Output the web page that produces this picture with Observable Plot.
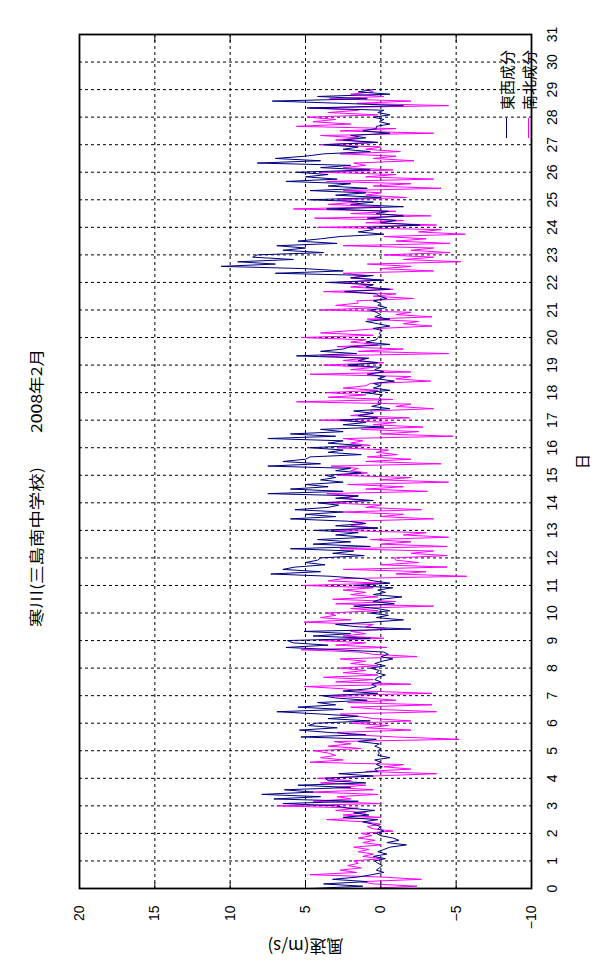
<!DOCTYPE html>
<html>
<head>
<meta charset="utf-8">
<script src="https://cdn.jsdelivr.net/npm/d3@7"></script>
<script src="https://cdn.jsdelivr.net/npm/@observablehq/plot@0.6"></script>
<style>
  html, body { margin: 0; padding: 0; background: #fff; }
  body { width: 604px; height: 970px; overflow: hidden; position: relative; }
  #rot { position: absolute; left: 0; top: 0; width: 970px; height: 604px;
         transform-origin: 0 0; transform: translate(0px, 970px) rotate(-90deg); }
  #title { position: absolute; left: 0; top: 0; }
  #chart { position: absolute; left: 0; top: 50px; }
  #legend { position: absolute; left: 832px; top: 0; font: 15px "Noto Sans CJK JP", sans-serif; color: #000; }
  .item { position: absolute; white-space: nowrap; display: flex; align-items: center; }
  .item span.sw { display: inline-block; width: 20px; height: 0; border-top: 1.5px solid; margin-right: 8px; }
</style>
</head>
<body>
<div id="rot">
  <svg id="title" width="970" height="50" xmlns="http://www.w3.org/2000/svg"
       style="font-family:'Noto Sans CJK JP',sans-serif; font-size:15px">
    <text id="t1" x="343" y="42" textLength="160" lengthAdjust="spacingAndGlyphs"></text>
    <text id="t2" x="537" y="42" textLength="84" lengthAdjust="spacingAndGlyphs"></text>
  </svg>
  <div id="chart"></div>
  <div id="legend"></div>
</div>
<script>
const titlePlace = "寒川(三島南中学校)";
const titleDate = "2008年2月";
const xLabel = "日";
const yLabel = "風速(m/s)";
const seriesNames = ["東西成分", "南北成分"];
const seriesColors = ["#000080", "#ff00ff"];
const dayTicks = d3.range(0, 32);
const speedTicks = [-10, -5, 0, 5, 10, 15, 20];
const stepsPerDay = 12;

// 東西成分 (2-hour readings, day 0 .. 29)
const ew = [
  4.6, 1.2, 3.8, 0.9, 3.2, 1.5, 0.6, -0.2, 0.3, 0.1, -0.1, 0.2,
  0.4, -0.3, 0.5, -0.4, 0.2, -0.2, -0.6, -1.7, -0.4, -1.2, -0.8, 0.0,
  0.3, -0.2, 0.2, 0.0, 0.5, 1.2, 0.2, 2.5, 0.8, 1.8, 0.4, 2.2,
  3.0, 6.5, 1.5, 7.1, 4.0, 7.9, 4.5, 6.4, 2.0, 5.5, 1.0, 3.5,
  3.7, 0.5, 2.8, 0.2, 0.4, -0.1, 0.3, 0.0, 0.4, -0.6, 0.2, 0.1,
  0.2, 0.0, 0.4, 0.1, 1.5, 0.3, 5.3, 1.0, 3.5, 5.4, 2.9, 4.8,
  4.3, 0.7, 3.5, 1.5, 4.0, 6.9, 2.5, 5.5, 3.0, 4.2, 0.9, 3.0,
  3.9, 0.2, 2.5, 0.8, 0.3, 0.6, 0.0, 0.4, 0.2, -0.3, 0.3, 0.1,
  0.7, -0.3, 0.4, -0.1, -0.8, 0.0, -0.5, -0.2, 2.9, 6.3, 3.5, 5.8,
  6.2, 0.7, 4.5, 2.0, 5.1, -2.0, 1.5, 3.0, 0.7, -1.5, 0.3, -0.5,
  0.7, -0.6, 0.3, 1.8, -0.9, 0.5, 0.0, -1.4, 0.5, -0.3, 0.2, -0.8,
  1.8, -0.6, 0.5, 1.2, 3.3, 7.3, 4.0, 6.5, 5.7, 3.7, 5.0, 4.2,
  4.0, 1.1, 3.2, 1.8, 6.0, 0.7, 4.5, 2.0, 4.2, 0.9, 3.0, 1.5,
  4.4, 0.2, 3.0, 1.0, 2.2, 6.0, 3.0, 5.0, 2.5, 5.7, 3.5, 2.8,
  4.2, 0.5, 3.0, 1.5, 7.5, 2.5, 6.0, 3.5, 5.0, 2.5, 4.0, 3.0,
  3.7, 1.3, 3.0, 2.0, 7.5, 4.0, 6.5, 5.0, 4.7, 1.3, 3.5, 2.5,
  4.7, 1.3, 3.5, 2.5, 7.5, 3.0, 6.0, 2.5, 4.0, -0.2, 2.5, 1.0,
  2.7, 0.2, 1.5, 0.5, 1.8, -0.6, 0.6, 0.0, 0.2, 0.0, 0.1, -0.1,
  1.1, -0.6, 0.5, 0.0, 0.5, -0.9, 0.2, -0.3, 0.9, -0.2, 0.4, 0.0,
  2.2, 0.2, 1.5, 0.8, 5.6, 1.6, 4.0, 2.5, 2.0, -0.6, 1.0, 0.3,
  0.2, 0.0, 0.1, -0.1, 0.5, -0.6, 0.2, 1.0, -0.6, 0.4, 0.0, 0.3,
  0.7, -0.4, 0.2, 0.0, 0.5, -0.4, 0.1, 0.3, 2.4, -0.6, 1.0, 0.5,
  3.5, -0.2, 2.0, 0.5, 7.0, 2.5, 5.0, 10.6, 7.0, 9.5, 5.8, 8.5,
  8.2, 3.8, 6.5, 5.0, 6.9, 2.9, 5.5, 4.0, 2.7, -0.2, 1.5, 0.5,
  0.9, -2.6, 0.0, -1.0, 0.9, -1.5, 0.3, -0.5, 3.6, -1.5, 2.0, 0.5,
  4.7, 0.0, 3.0, 1.0, 4.7, 0.9, 3.5, 2.0, 6.3, 2.9, 5.0, 3.5,
  5.6, 0.7, 4.0, 2.0, 8.2, 4.0, 7.0, 5.0, 3.8, 0.7, 2.5, 1.5,
  3.8, 0.2, 2.5, 1.0, 2.0, -0.6, 1.2, 0.3, 0.3, -0.6, 0.1, -0.2,
  0.5, -0.6, 0.2, -0.2, 4.9, -1.5, 2.5, 7.2, 0.9, 4.2, -0.6, 1.5,
  0.5
];

// 南北成分 (2-hour readings, day 0 .. 29)
const ns = [
  1.2, -2.4, 0.5, 1.3, -2.7, 0.0, 4.7, 1.6, 2.7, 1.3, 2.2, 1.5,
  1.8, 0.0, 1.2, 0.5, 1.5, 0.8, 1.8, 0.0, 1.2, 0.4, 1.5, 0.6,
  1.3, -0.8, 0.5, 0.9, 0.0, 1.0, 3.6, 0.0, 2.5, 1.0, 3.0, 1.5,
  6.9, 0.0, 4.5, 2.0, 2.9, 0.2, 4.6, 0.5, 3.0, 1.0, 4.0, 2.0,
  4.2, 0.5, -3.7, 1.0, -2.0, -0.2, -1.5, 4.7, 2.5, 4.0, 3.0, 3.5,
  4.4, 1.3, 3.5, 2.0, 3.1, -5.2, -1.0, 2.0, 2.9, -2.0, 1.0, -0.5,
  2.0, -2.0, 0.5, 1.5, 2.7, -3.7, 0.0, 2.0, -3.4, 2.2, -1.0, 1.0,
  3.8, -3.4, 1.0, 2.5, 5.1, -2.0, 3.0, 0.5, 3.8, 0.2, 2.5, 1.0,
  2.7, 0.2, 2.0, 1.0, 2.7, -2.4, 0.5, 1.5, 5.3, -0.4, 3.0, 1.0,
  4.0, -0.2, 2.5, 1.0, 2.0, -0.4, 1.0, 0.5, 5.1, 2.0, 4.0, 3.0,
  3.6, 0.2, 2.0, -3.5, 3.0, -1.0, 3.2, 0.2, 2.0, 1.0, 2.5, 0.5,
  5.2, 0.0, 3.5, 2.5, -5.7, -1.0, -3.0, 2.5, -4.4, 0.0, -2.5, -1.0,
  -0.9, -4.4, -2.0, -3.5, 2.7, -4.4, 0.0, -2.0, 0.7, -4.5, -1.5, -3.0,
  3.1, 0.2, 2.0, 1.0, 2.0, -3.5, 0.0, -1.5, 2.5, -2.7, 1.0, 0.0,
  3.6, 0.7, 2.5, 1.5, 3.6, -3.1, 1.0, -1.5, 2.2, -4.5, 0.0, -2.0,
  2.9, 0.9, 2.0, 1.5, 3.3, -4.0, 1.0, -2.0, 0.9, -1.1, 0.3, -0.5,
  2.9, 0.7, 2.0, 1.2, 2.5, -4.8, 0.0, -2.5, 1.3, -2.8, 0.5, -1.0,
  4.0, -1.9, 2.0, 0.5, 0.7, -3.5, -1.0, -2.0, 5.6, -0.8, 3.5, 1.0,
  3.6, 0.2, 2.5, 1.0, 0.7, -3.3, -1.0, -2.0, 4.7, -2.0, 2.0, 0.5,
  3.8, -0.2, 2.5, 1.0, 4.0, -4.5, 1.5, -1.5, 2.9, 0.2, 2.0, 1.0,
  5.3, 0.5, 4.0, 2.0, 0.0, -3.4, -1.5, -2.5, 0.9, -3.4, -1.0, -2.0,
  4.0, 0.2, 3.0, 1.5, 1.6, -2.2, 0.5, -1.0, 3.8, -0.8, 2.0, 0.5,
  2.7, 0.0, 2.0, 1.0, 2.5, -3.5, 0.0, -2.0, 0.9, -5.3, -1.5, -3.5,
  -0.2, -4.6, -2.0, -3.5, 2.5, -4.6, -1.0, -3.0, -0.2, -5.6, -2.5, -4.0,
  4.2, -3.7, 1.0, -1.5, 4.4, -3.3, 2.0, -1.0, 5.8, 0.0, 3.5, 1.5,
  2.9, -1.7, 1.0, 0.0, 2.5, -4.0, 0.5, -2.0, 3.6, -3.5, 1.0, -1.0,
  4.0, -0.8, 2.5, 1.0, 1.8, -2.2, 0.5, -1.0, 2.7, -1.3, 1.0, 0.0,
  4.0, 0.2, 3.0, 1.5, 4.0, -3.5, 2.7, -1.0, 5.6, 2.0, 4.5, 3.0,
  4.9, 0.2, 3.5, 1.5, 4.7, -4.5, 1.6, -2.0, 3.4, -0.2, 2.0, 0.5,
  1.0
];

const toRows = arr => arr.map((v, i) => ({day: i / stepsPerDay, v}));
const ewRows = toRows(ew);
const nsRows = toRows(ns);

document.getElementById("t1").textContent = titlePlace;
document.getElementById("t2").textContent = titleDate;

const cjk = "'Noto Sans CJK JP', sans-serif";

const chart = Plot.plot({
  width: 970,
  height: 554,
  marginLeft: 81,
  marginRight: 35,
  marginTop: 29,
  marginBottom: 73,
  style: {fontFamily: "'Liberation Sans', Arial, sans-serif", fontSize: "14px", color: "#000", background: "#fff", overflow: "visible"},
  x: {domain: [0, 31], label: null},
  y: {domain: [-10, 20], label: null},
  marks: [
    Plot.gridX(dayTicks, {stroke: "#000", strokeOpacity: 1, strokeDasharray: "3,3", strokeWidth: 1}),
    Plot.gridY(speedTicks, {stroke: "#000", strokeOpacity: 1, strokeDasharray: "3,3", strokeWidth: 1}),
    Plot.line(nsRows, {x: "day", y: "v", stroke: seriesColors[1], strokeWidth: 1}),
    Plot.line(ewRows, {x: "day", y: "v", stroke: seriesColors[0], strokeWidth: 1}),
    Plot.ruleY(speedTicks, {y: d => d, x1: 0, x2: 0.25, stroke: "#000"}),
    Plot.ruleY(speedTicks, {y: d => d, x1: 30.75, x2: 31, stroke: "#000"}),
    Plot.frame({stroke: "#000", strokeWidth: 1.8}),
    Plot.axisX(dayTicks, {tickSize: 0, tickPadding: 16, tickFormat: d => String(d), label: null}),
    Plot.axisY(speedTicks, {tickSize: 0, tickPadding: 17, tickFormat: d => d < 0 ? "\u2212" + Math.abs(d) : String(d), label: null}),
    Plot.text([xLabel], {frameAnchor: "bottom", dy: 52, lineAnchor: "middle", textAnchor: "middle", fontSize: 15, fontFamily: cjk}),
    Plot.text([yLabel], {frameAnchor: "left", dx: -57, rotate: -90, lineAnchor: "middle", textAnchor: "middle", fontSize: 17, fontFamily: cjk})
  ]
});
document.getElementById("chart").appendChild(chart);

const legend = document.getElementById("legend");
seriesNames.forEach((name, i) => {
  const item = document.createElement("div");
  item.className = "item";
  item.style.top = (507 + i * 22 - 11) + "px";
  item.style.left = "0px";
  item.innerHTML = `<span class="sw" style="border-color:${seriesColors[i]}"></span><span>${name}</span>`;
  legend.appendChild(item);
});
</script>
</body>
</html>
